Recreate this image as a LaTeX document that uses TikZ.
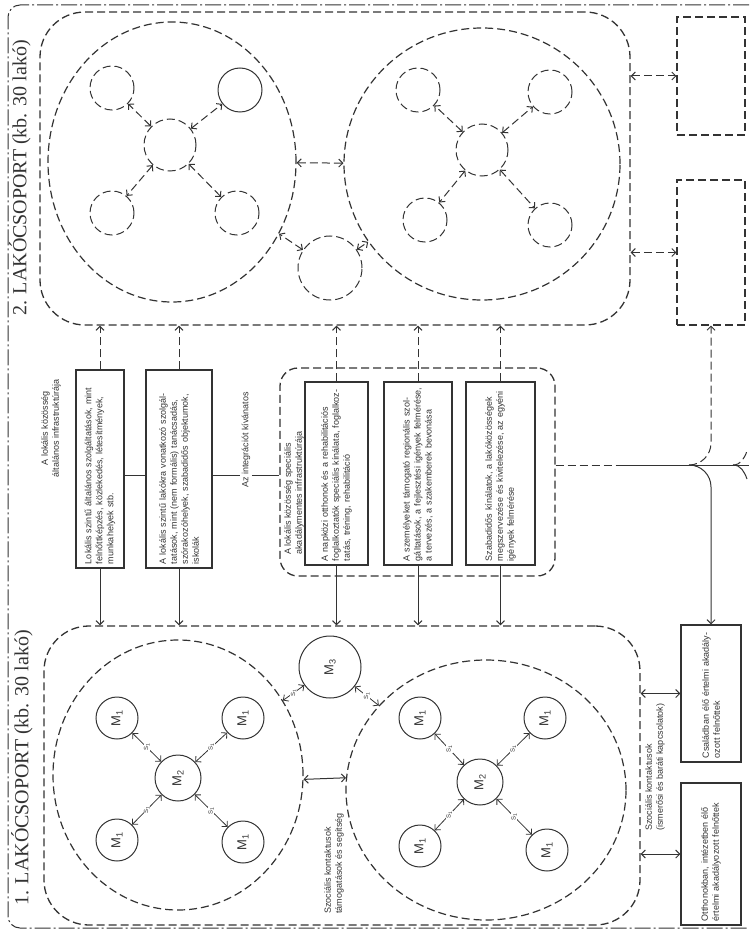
\documentclass[tikz,border=0pt]{standalone}
\usepackage{fontspec}
\setmainfont{Liberation Serif}
\setsansfont{Liberation Sans}
\usetikzlibrary{arrows.meta,calc,shapes.geometric}
\definecolor{InkClr}{rgb}{0.2,0.2,0.2}

\begin{document}
\begin{tikzpicture}[x=1pt,y=-1pt,color=InkClr,line width=1pt,
  >={Straight Barb[length=4pt,width=8pt]},
  dline/.style={dash pattern=on 8pt off 4pt},
  frame/.style={dash pattern=on 16pt off 3pt on 2pt off 3pt,rounded corners=12pt},
  grp/.style={draw,dline,line width=1.3pt,inner sep=0pt},
  oval/.style={draw,ellipse,dline,line width=1.2pt,inner sep=0pt},
  txtbox/.style={draw,line width=1.2pt,rotate=90,font=\sffamily\fontsize{9}{11}\selectfont,align=left,inner sep=4pt},
  midtxt/.style={rotate=90,font=\sffamily\fontsize{9}{11}\selectfont,align=left,inner sep=1pt},
  biglab/.style={rotate=90,font=\fontsize{20}{20}\selectfont,inner sep=0pt},
  dcirc/.style={draw,circle,dline,inner sep=0pt,minimum size=44pt},
  mcirc/.style={draw,circle,rotate=90,inner sep=0pt,minimum size=42pt,font=\sffamily\fontsize{13}{13}\selectfont},
  darr/.style={dline,<->},
  sarr/.style={<->,line width=0.8pt},
  slab/.style={rotate=90,fill=white,inner sep=0.5pt,font=\sffamily\fontsize{6}{6}\selectfont}]
\useasboundingbox (0,0) rectangle (749,933);

\draw[frame] (749,5) -- (8,5) -- (8,928) -- (749,928);

\node[biglab] (lab2) at (20,178) {2. LAKÓCSOPORT (kb. 30 lakó)};
\node[biglab] (lab1) at (22,768) {1. LAKÓCSOPORT (kb. 30 lakó)};

% 2. lakocsoport
\node[grp,rounded corners=45pt,minimum width=590pt,minimum height=313pt] (grpB) at (335,168.5) {};
\node[oval,minimum width=248pt,minimum height=280pt] (e2a) at (172,162) {};
\node[oval,minimum width=276pt,minimum height=272pt] (e2b) at (482,164) {};

\node[dcirc,minimum size=52pt] (cL) at (170,145) {};
\node[dcirc] (cL1) at (112,88) {};
\node[dcirc,solid] (cL2) at (240,90) {};
\node[dcirc] (cL3) at (112,213) {};
\node[dcirc] (cL4) at (237,213) {};

\node[dcirc,minimum size=52pt] (cR) at (482,150) {};
\node[dcirc] (cR1) at (418,90) {};
\node[dcirc] (cR2) at (550,92) {};
\node[dcirc] (cR3) at (425,220) {};
\node[dcirc] (cR4) at (550,225) {};

\node[dcirc,minimum size=64pt] (cM) at (330,268) {};

\foreach \s in {1,...,4} {
  \draw[darr] (cL) -- (cL\s);
  \draw[darr] (cR) -- (cR\s);
}
\draw[darr] (cM) -- (e2a);
\draw[darr] (cM) -- (e2b);
\draw[darr] (e2a) -- (e2b);

\node[grp,line width=1.1pt,minimum width=68pt,minimum height=118pt] (rb1) at (711,76) {};
\node[grp,line width=1.1pt,minimum width=68pt,minimum height=145pt] (rb2) at (711,252.5) {};
\draw[darr] (grpB.east |- rb1.west) -- (rb1.west);
\draw[darr] (grpB.east |- rb2.west) -- (rb2.west);

% kozepso sav
\node[midtxt,align=center] (h1) at (51,428) {A lokális közösség\\általános infrastruktúrája};
\node[txtbox,text width=190pt,minimum height=48pt] (b1) at (100,469)
  {Lokális szintű általános szolgáltatások, mint felnőttképzés, közlekedés, létesítmények, munkahelyek stb.};
\node[txtbox,text width=190pt,minimum height=66pt] (b2) at (179,469)
  {A lokális szintű lakókra vonatkozó szolgáltatások, mint (nem formális) tanácsadás, szórakozóhelyek, szabadidős objektumok, iskolák};
\node[midtxt] (integ) at (246,440) {Az integrációt kívánatos};

\node[grp,rounded corners=18pt,minimum width=275pt,minimum height=208pt] (grpS) at (417.5,472) {};
\node[midtxt,anchor=west] (hS) at (294,556) {A lokális közösség speciális\\akadálymentes infrastruktúrája};
\node[txtbox,text width=175pt,minimum height=63pt] (b3) at (336.5,473.5)
  {A napközi otthonok és a rehabilitációs foglalkoztatók speciális kínálata, foglalkoztatás, tréning, rehabilitáció};
\node[txtbox,text width=175pt,minimum height=68pt] (b4) at (418,473.5)
  {A személyeket támogató regionális szolgáltatások, a fejlesztési igények felmérése, a tervezés, a szakemberek bevonása};
\node[txtbox,text width=175pt,minimum height=69pt] (b5) at (500.5,473.5)
  {Szabadidős kínálatok, a lakóközösségek megszervezése és kivitelezése, az egyéni igények felmérése};

\coordinate (lnk) at (0,475);
\draw (b1.south |- lnk) -- (b2.north |- lnk);
\draw (b2.south |- lnk) -- (integ.north |- lnk);
\draw (integ.south |- lnk) -- (grpS.west |- lnk);

% 1. lakocsoport
\node[grp,rounded corners=45pt,minimum width=596pt,minimum height=299pt] (grpA) at (342,775.5) {};

\foreach \b in {b1,b2,b3,b4,b5} {
  \draw[dline,->] (\b.east) -- (\b.east |- grpB.south);
  \draw[->] (\b.west) -- (\b.west |- grpA.north);
}

\node[oval,minimum width=250pt,minimum height=270pt] (e1a) at (178,775) {};
\node[oval,minimum width=280pt,minimum height=260pt] (e1b) at (486,790) {};

\node[mcirc,minimum size=46pt] (mL) at (178,778) {M\textsubscript{2}};
\node[mcirc] (mL1) at (117,718) {M\textsubscript{1}};
\node[mcirc] (mL2) at (243,718) {M\textsubscript{1}};
\node[mcirc] (mL3) at (117,840) {M\textsubscript{1}};
\node[mcirc] (mL4) at (243,842) {M\textsubscript{1}};

\node[mcirc,minimum size=46pt] (mR) at (480,782) {M\textsubscript{2}};
\node[mcirc] (mR1) at (420,718) {M\textsubscript{1}};
\node[mcirc] (mR2) at (545,718) {M\textsubscript{1}};
\node[mcirc] (mR3) at (420,846) {M\textsubscript{1}};
\node[mcirc] (mR4) at (547,850) {M\textsubscript{1}};

\node[mcirc,minimum size=62pt] (m3) at (330,667) {M\textsubscript{3}};

\foreach \s in {1,...,4} {
  \draw[sarr] (mL) -- node[slab] {S\textsubscript{1}} (mL\s);
  \draw[sarr] (mR) -- node[slab] {S\textsubscript{1}} (mR\s);
}
\draw[sarr] (m3) -- node[slab] {S\textsubscript{1}} (e1a);
\draw[sarr] (m3) -- node[slab] {S\textsubscript{1}} (e1b);
\draw[sarr,line width=1pt] (e1a.-2) -- (e1b.175);
\node[midtxt,anchor=west] (soc1) at (334,915) {Szociális kontaktusok\\támogatások és segítség};

\node[txtbox,text width=129pt,minimum height=60pt] (fam) at (711,693.5)
  {Családban élő értelmi akadályozott felnőttek};
\node[txtbox,text width=134pt,minimum height=60pt] (inst) at (711,854)
  {Otthonokban, intézetben élő értelmi akadályozott felnőttek};
\draw[sarr,line width=1pt] (grpA.east |- fam.north) -- (fam.north);
\draw[sarr,line width=1pt] (grpA.east |- inst.north) -- (inst.north);
\node[midtxt,anchor=west] (soc2) at (655,832) {Szociális kontaktusok\\(ismerősi és baráti kapcsolatok)};

% elagazas
\coordinate (jn) at (711,465);
\coordinate (hl) at (620,465);
\coordinate (hr) at (749,465);
\draw[dline] (grpS.east |- jn) -- (hl);
\draw (hl) -- (hr);
\draw[->] ([xshift=-22pt]jn) to[out=0,in=90] ([yshift=-22pt]jn) -- (fam.east);
\draw[dline,->] ([xshift=-22pt]jn) to[out=0,in=-90] ([yshift=22pt]jn) -- (rb2.south);
\draw ([xshift=22pt]jn) to[out=0,in=110] ([xshift=36pt,yshift=-14pt]jn);
\draw[dline] ([xshift=22pt]jn) to[out=0,in=-110] ([xshift=36pt,yshift=14pt]jn);
\end{tikzpicture}
\end{document}
